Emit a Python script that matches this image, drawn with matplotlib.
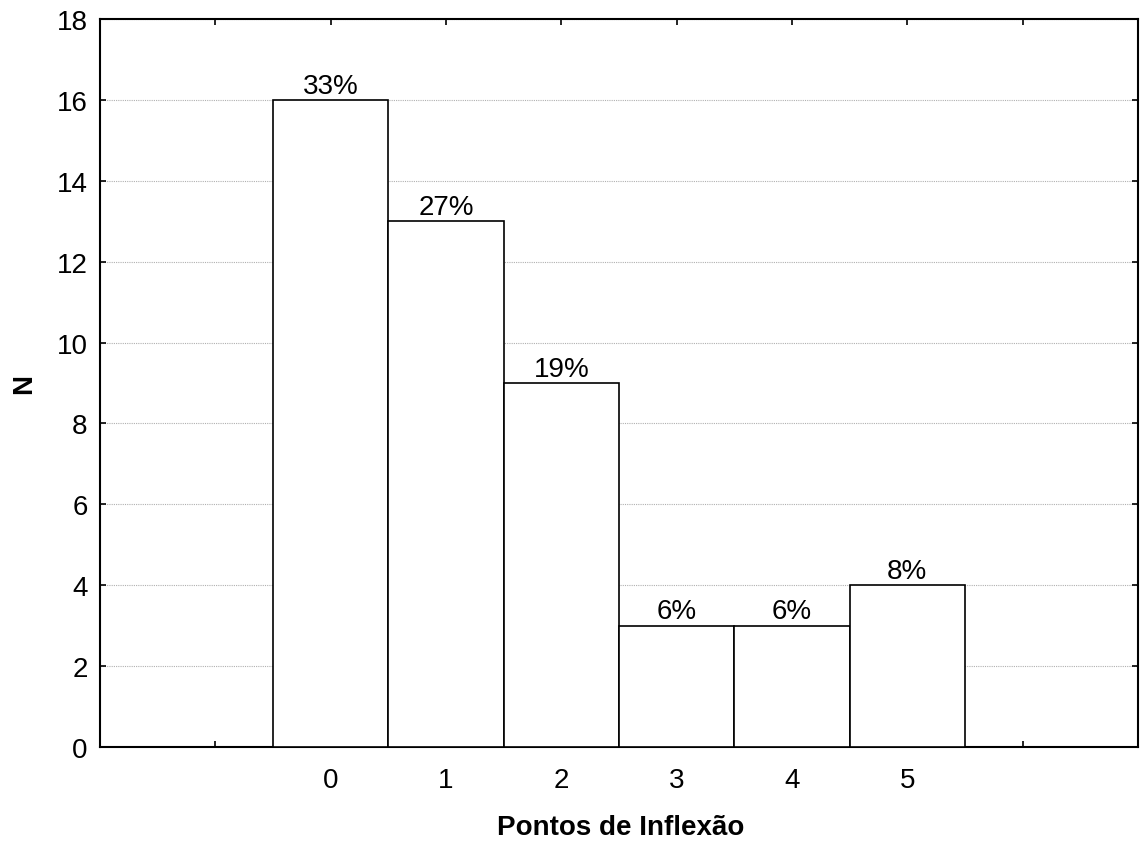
import matplotlib
matplotlib.use("Agg")
import matplotlib.pyplot as plt

plt.rcParams['font.family'] = ['Liberation Sans', 'DejaVu Sans']

categories = [0, 1, 2, 3, 4, 5]
counts = [16, 13, 9, 3, 3, 4]
x_ticks = [-1, 0, 1, 2, 3, 4, 5, 6]
x_ticklabels = ['', '0', '1', '2', '3', '4', '5', '']
y_ticks = [0, 2, 4, 6, 8, 10, 12, 14, 16, 18]

total = sum(counts)
pct_labels = [f"{round(100 * c / total):d}%" for c in counts]

W, H = 1140, 845
fig = plt.figure(figsize=(W / 100, H / 100), dpi=100)
ax = fig.add_axes([100 / W, 1 - 748 / H, 1038 / W, 728 / H])

bars = ax.bar(categories, counts, width=1.0, color='white',
              edgecolor='black', linewidth=1.2, zorder=3)
for b, lab in zip(bars, pct_labels):
    ax.text(b.get_x() + b.get_width() / 2, b.get_height() + 0.03, lab,
            ha='center', va='bottom', fontsize=20, zorder=4)

ax.set_xlim(-2, 7)
ax.set_ylim(0, 18)
ax.set_xticks(x_ticks)
ax.set_xticklabels(x_ticklabels)
ax.set_yticks(y_ticks)
ax.tick_params(axis='both', direction='in', labelsize=20, length=4,
               width=1.2, top=True, right=True)
ax.tick_params(axis='x', pad=14.5)
ax.tick_params(axis='y', pad=9)
ax.yaxis.grid(True, linestyle=(0, (1, 1)), color='#b0b0b0', linewidth=0.8, zorder=0)
for s in ax.spines.values():
    s.set_linewidth(1.5)

ax.set_xlabel('Pontos de Inflexão', fontsize=20, fontweight='bold')
ax.set_ylabel('N', fontsize=20, fontweight='bold')
ax.xaxis.set_label_coords((621 - 100) / 1038, (748 - 835) / 728)
ax.xaxis.label.set_va('baseline')
ax.yaxis.set_label_coords((24 - 100) / 1038, (748 - 384) / 728)
ax.yaxis.label.set_va('center')

fig.savefig('out.png', dpi=100)
